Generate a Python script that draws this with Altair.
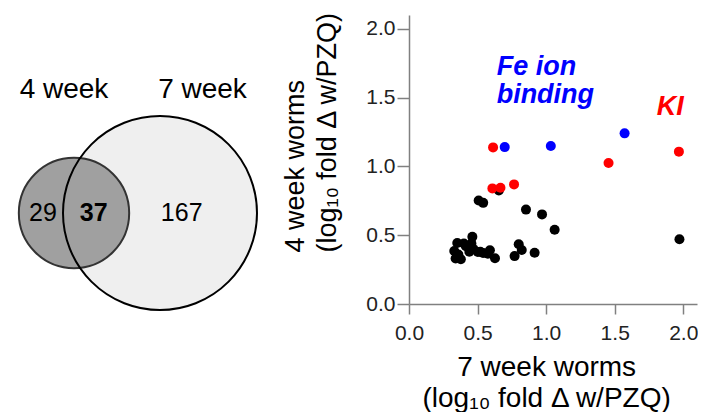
import altair as alt
import pandas as pd

FONT = "Liberation Sans"

# ---------------- data ----------------
# Venn diagram: gene counts
venn_sets = ["4 week", "7 week"]
venn_only = [29, 167]
venn_shared = 37

# Scatter: log10 fold change with PZQ, 7 week (x) vs 4 week (y)
black_x = [0.508, 0.541, 0.655, 0.853, 0.970, 1.062, 1.972,
           0.352, 0.330, 0.340, 0.378, 0.415, 0.462, 0.455, 0.470,
           0.502, 0.540, 0.590, 0.627, 0.770, 0.800, 0.822, 0.916,
           0.360, 0.440, 0.400, 0.520, 0.575]
black_y = [0.752, 0.735, 0.825, 0.686, 0.651, 0.539, 0.470,
           0.443, 0.385, 0.330, 0.325, 0.420, 0.488, 0.440, 0.400,
           0.378, 0.370, 0.390, 0.332, 0.348, 0.434, 0.392, 0.373,
           0.360, 0.380, 0.440, 0.380, 0.365]
ki_x = [0.613, 0.608, 0.667, 0.766, 1.455, 1.968]
ki_y = [1.138, 0.840, 0.845, 0.869, 1.024, 1.107]
fe_x = [0.698, 1.034, 1.572]
fe_y = [1.140, 1.148, 1.240]

tick_values = [0.0, 0.5, 1.0, 1.5, 2.0]
axis_max = 2.1

annot_text = ["Fe ion", "binding", "KI"]
annot_x = [0.639, 0.639, 1.806]
annot_y = [1.664, 1.458, 1.373]
annot_group = ["Fe", "Fe", "KI"]

x_title = ["7 week worms", "(log\u2081\u2080 fold \u0394 w/PZQ)"]
y_title = ["4 week worms", "(log\u2081\u2080 fold \u0394 w/PZQ)"]

# ---------------- layout ----------------
TOP = 15
PAD_TOP = 11            # page padding (the y title's bounds add the rest)
PLOT_W = 288
PLOT_H = 289
VENN_W = 270
PLOT_LEFT = 409
BIG_DIAM = 194          # diameter of the largest Venn circle (px)

venn_totals = [venn_only[0] + venn_shared, venn_only[1] + venn_shared]

venn_circles = pd.DataFrame({
    "set": venn_sets,
    "total": venn_totals,
    "px": [74, 160],
    "py": [213, 213],
    "fill": ["#a0a0a0", "#efefef"],
    "edge": ["#333333", "#000000"],
})
set_labels = pd.DataFrame({"label": venn_sets, "px": [64, 202.5], "py": [98, 98]})
count_labels = pd.DataFrame({
    "label": [str(venn_only[0]), str(venn_shared), str(venn_only[1])],
    "bold": [False, True, False],
    "px": [43, 93.7, 181.7],
    "py": [221, 221, 221],
})

vx = alt.X("px:Q", scale=alt.Scale(domain=[0, VENN_W], nice=False, zero=False), axis=None)
vy = alt.Y("py:Q", scale=alt.Scale(domain=[TOP + PLOT_H, TOP], nice=False, zero=False), axis=None)
vsize = alt.Size("total:Q", scale=alt.Scale(domain=[0, max(venn_totals)], range=[0, BIG_DIAM ** 2], zero=True), legend=None)

big_fill = alt.Chart(venn_circles).transform_filter(alt.datum.set == "7 week").mark_circle(
    opacity=1).encode(x=vx, y=vy, size=vsize, color=alt.Color("fill:N", scale=None))
small_fill = alt.Chart(venn_circles).transform_filter(alt.datum.set == "4 week").mark_circle(
    opacity=1).encode(x=vx, y=vy, size=vsize, color=alt.Color("fill:N", scale=None))
outlines = alt.Chart(venn_circles).mark_point(
    shape="circle", filled=False, strokeWidth=2, opacity=1).encode(
    x=vx, y=vy, size=vsize, color=alt.Color("edge:N", scale=None))
set_text = alt.Chart(set_labels).mark_text(
    font=FONT, fontSize=28, color="black", align="center", baseline="alphabetic").encode(
    x=vx, y=vy, text="label:N")
count_text = alt.Chart(count_labels).transform_filter(alt.datum.bold == False).mark_text(
    font=FONT, fontSize=25, color="black", align="center", baseline="alphabetic").encode(
    x=vx, y=vy, text="label:N")
count_bold = alt.Chart(count_labels).transform_filter(alt.datum.bold == True).mark_text(
    font=FONT, fontSize=25, fontWeight="bold", color="black", align="center", baseline="alphabetic").encode(
    x=vx, y=vy, text="label:N")

venn = alt.layer(big_fill, small_fill, outlines, set_text, count_text, count_bold).properties(
    width=VENN_W, height=PLOT_H)

# ---------------- scatter ----------------
points = pd.DataFrame({
    "x": black_x + ki_x + fe_x,
    "y": black_y + ki_y + fe_y,
    "group": ["other"] * len(black_x) + ["KI"] * len(ki_x) + ["Fe"] * len(fe_x),
    "rank": [0] * len(black_x) + [1] * len(ki_x) + [2] * len(fe_x),
})
annots = pd.DataFrame({"label": annot_text, "x": annot_x, "y": annot_y, "group": annot_group})

color_scale = alt.Scale(domain=["other", "KI", "Fe"], range=["#000000", "#ff0000", "#0000ff"])

x_enc = alt.X("x:Q", scale=alt.Scale(domain=[0, axis_max], nice=False, zero=False),
              axis=alt.Axis(values=tick_values, format=".1f", title=x_title,
                            tickSize=10, labelPadding=8, labelFlush=False,
                            titleX=(PLOT_W * 2.0 / axis_max) / 2, titleY=71,
                            titleAlign="center", titleBaseline="alphabetic",
                            titleLineHeight=31, titleFontSize=28))
y_enc = alt.Y("y:Q", scale=alt.Scale(domain=[0, axis_max], nice=False, zero=False),
              axis=alt.Axis(values=tick_values, format=".1f", title=y_title,
                            tickSize=12, labelPadding=2, labelFlush=False,
                            titleAngle=270, titleAlign="left", titleBaseline="alphabetic",
                            titleX=-106, titleY=237, titleLineHeight=32, titleFontSize=27))

dots = alt.Chart(points).mark_circle(size=100, opacity=1).encode(
    x=x_enc, y=y_enc,
    color=alt.Color("group:N", scale=color_scale, legend=None),
    order=alt.Order("rank:Q"))
labels = alt.Chart(annots).mark_text(
    font=FONT, fontSize=27, fontWeight="bold", fontStyle="italic",
    align="left", baseline="alphabetic").encode(
    x="x:Q", y="y:Q", text="label:N",
    color=alt.Color("group:N", scale=color_scale, legend=None))

scatter = alt.layer(dots, labels).properties(width=PLOT_W, height=PLOT_H)

chart = alt.hconcat(venn, scatter, spacing=PLOT_LEFT - VENN_W, bounds="flush").properties(
    padding={"left": 0, "top": PAD_TOP, "right": 0, "bottom": 0}
).configure_view(stroke=None).configure_axis(
    grid=False,
    domainColor="#808080", domainWidth=1.5,
    tickColor="#808080", tickWidth=1.5,
    labelFont=FONT, labelFontSize=21, labelColor="#222222",
    titleFont=FONT, titleFontWeight="normal", titleColor="#000000",
)

chart.save("out.html", embed_options={"renderer": "svg", "actions": False})
